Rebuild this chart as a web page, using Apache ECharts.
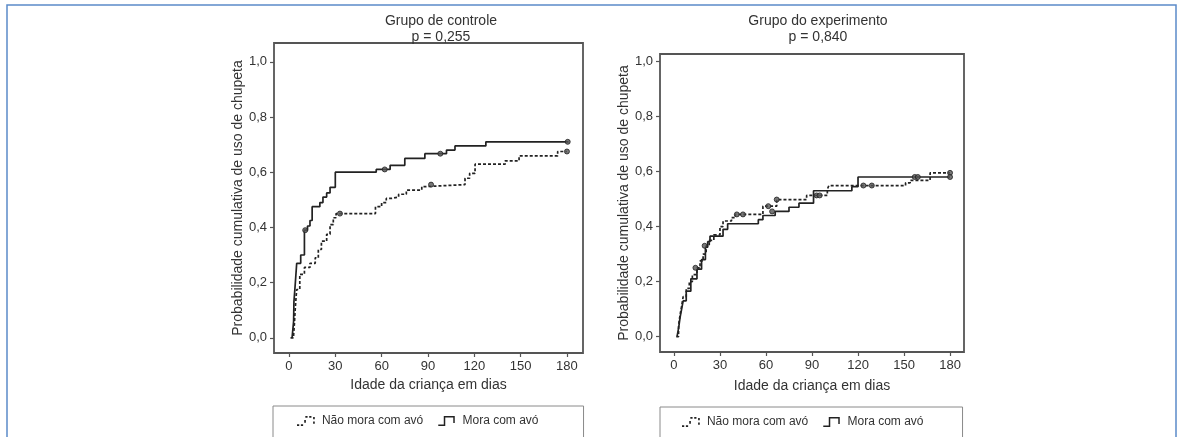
<!DOCTYPE html>
<html>
<head>
<meta charset="utf-8">
<script src="https://cdn.jsdelivr.net/npm/echarts@6/dist/echarts.min.js"></script>
<style>
  html, body { margin: 0; padding: 0; background: #fff; }
  #chart { width: 1181px; height: 437px; }
</style>
</head>
<body>
<div id="chart"></div>
<script>
// tick labels
const xTicks = [0, 30, 60, 90, 120, 150, 180]
const yTicks = [0, 0.2, 0.4, 0.6, 0.8, 1.0]
const groupNames = ['Não mora com avó', 'Mora com avó']

// Grupo de controle
const ctrlNaoDays = [1, 3, 3.5, 4, 4.5, 5, 7, 10, 13.6, 17, 19, 21, 24.4, 26.6, 28.7, 30.5, 56, 60, 63, 66.5, 71, 76, 86, 89, 114, 117, 120.5, 140, 149, 174, 180]
const ctrlNaoProb = [0, 0.01, 0.05, 0.1, 0.14, 0.175, 0.23, 0.255, 0.27, 0.29, 0.32, 0.35, 0.375, 0.41, 0.435, 0.45, 0.475, 0.49, 0.505, 0.51, 0.52, 0.535, 0.548, 0.555, 0.578, 0.596, 0.629, 0.641, 0.659, 0.675, 0.675]
const ctrlNaoCensDays = [33, 92, 180]
const ctrlNaoCensProb = [0.45, 0.555, 0.675]
const ctrlMoraDays = [2, 3, 3.2, 4, 5, 7.6, 10, 12, 13.6, 15, 20, 22, 24.4, 26.6, 30, 56.5, 65.5, 75, 88, 102, 107.5, 127.5, 181]
const ctrlMoraProb = [0, 0.06, 0.13, 0.19, 0.27, 0.3, 0.39, 0.405, 0.425, 0.475, 0.49, 0.51, 0.525, 0.545, 0.6, 0.61, 0.625, 0.65, 0.667, 0.68, 0.695, 0.71, 0.71]
const ctrlMoraCensDays = [10.5, 62, 98, 180.5]
const ctrlMoraCensProb = [0.39, 0.61, 0.667, 0.71]

// Grupo do experimento
const expNaoDays = [1.5, 3, 4, 5, 6, 8, 10, 12, 15, 17, 19, 21, 23, 26, 30, 32, 37.5, 40, 58, 67, 86.5, 100, 101, 151, 154, 167, 180]
const expNaoProb = [0, 0.04, 0.08, 0.11, 0.145, 0.175, 0.2, 0.225, 0.25, 0.275, 0.3, 0.33, 0.35, 0.37, 0.4, 0.42, 0.432, 0.444, 0.474, 0.498, 0.513, 0.535, 0.549, 0.559, 0.568, 0.595, 0.595]
const expNaoCensDays = [14, 20, 41, 45, 61.5, 67, 93, 95, 123.5, 129, 180]
const expNaoCensProb = [0.25, 0.33, 0.444, 0.444, 0.474, 0.498, 0.513, 0.513, 0.549, 0.549, 0.595]
const expMoraDays = [2, 3, 4, 5, 6, 8, 11, 15, 18, 20.5, 22, 23.5, 32, 35, 55, 58, 66, 75, 81.5, 91, 116, 120, 180]
const expMoraProb = [0, 0.03, 0.07, 0.1, 0.13, 0.165, 0.21, 0.245, 0.28, 0.325, 0.345, 0.365, 0.39, 0.41, 0.425, 0.44, 0.455, 0.47, 0.485, 0.53, 0.545, 0.58, 0.58]
const expMoraCensDays = [64, 157, 159, 180]
const expMoraCensProb = [0.455, 0.58, 0.58, 0.58]

const zip = (xs, ys) => xs.map((x, i) => [x, ys[i]])

const FONT = '"Liberation Sans", Arial, sans-serif'
const INK = '#222'
const TXT = '#333'

const solidIcon = 'path://M0,17L14,17L14,20L0,20Z M11,0L14,0L14,20L11,20Z M11,0L33,0L33,3L11,3Z M30,0L33,0L33,14L30,14Z'
const dashIcon = 'path://M0,17L4,17L4,20L0,20Z M7,17L11,17L11,20L7,20Z M13,9L16,9L16,14L13,14Z M15,2L19,2L19,5L15,5Z M22,2L26,2L26,5L22,5Z M29,4L32,4L32,8L29,8Z M29,12L32,12L32,16L29,16Z'

const chart = echarts.init(document.getElementById('chart'))

const makeX = (gridIndex, min, max, gap) => ({
  type: 'value',
  gridIndex: gridIndex,
  min: min,
  max: max,
  name: 'Idade da criança em dias',
  nameLocation: 'middle',
  nameGap: gap,
  nameTextStyle: { fontFamily: FONT, fontSize: 14, color: TXT },
  axisLine: { show: false, onZero: false },
  axisTick: { show: true, length: 4, customValues: xTicks, lineStyle: { color: '#555', width: 1.2 } },
  axisLabel: { customValues: xTicks, margin: 7, fontFamily: FONT, fontSize: 13, color: TXT },
  splitLine: { show: false }
})

const makeY = (gridIndex, min, max, gap) => ({
  type: 'value',
  gridIndex: gridIndex,
  min: min,
  max: max,
  name: 'Probabilidade cumulativa de uso de chupeta',
  nameLocation: 'middle',
  nameGap: gap,
  nameTextStyle: { fontFamily: FONT, fontSize: 14, color: TXT },
  axisLine: { show: false, onZero: false },
  axisTick: { show: true, length: 4, customValues: yTicks, lineStyle: { color: '#555', width: 1.2 } },
  axisLabel: {
    customValues: yTicks,
    margin: 7,
    fontFamily: FONT,
    fontSize: 13,
    color: TXT,
    formatter: (v) => v.toFixed(1).replace('.', ',')
  },
  splitLine: { show: false }
})

const stepSeries = (name, data, idx, dashed) => ({
  name: name,
  type: 'line',
  step: 'end',
  xAxisIndex: idx,
  yAxisIndex: idx,
  data: data,
  showSymbol: false,
  color: INK,
  lineStyle: { color: INK, width: 1.7, type: dashed ? [3, 2] : 'solid' },
  z: dashed ? 3 : 2
})

const censorSeries = (name, data, idx) => ({
  name: name,
  type: 'scatter',
  xAxisIndex: idx,
  yAxisIndex: idx,
  data: data,
  symbol: 'circle',
  symbolSize: 5,
  itemStyle: { color: '#555', borderColor: INK, borderWidth: 1 },
  z: 4
})

const makeLegend = (left, top, padding, gap) => ({
  left: left,
  top: top,
  orient: 'horizontal',
  padding: padding,
  itemGap: gap,
  itemWidth: 18,
  itemHeight: 10,
  borderColor: '#8a8a8a',
  borderWidth: 1,
  selectedMode: false,
  textStyle: { fontFamily: FONT, fontSize: 12, color: TXT, padding: [0, 0, 0, 2] },
  data: [
    { name: groupNames[0], icon: dashIcon, itemStyle: { color: INK } },
    { name: groupNames[1], icon: solidIcon, itemStyle: { color: INK } }
  ]
})

const option = {
  backgroundColor: '#fff',
  animation: false,
  title: [
    {
      text: 'Grupo de controle\np = 0,255',
      left: 436,
      top: 8,
      textAlign: 'center',
      textStyle: { fontFamily: FONT, fontSize: 14, fontWeight: 'normal', color: TXT, lineHeight: 16 }
    },
    {
      text: 'Grupo do experimento\np = 0,840',
      left: 813,
      top: 8,
      textAlign: 'center',
      textStyle: { fontFamily: FONT, fontSize: 14, fontWeight: 'normal', color: TXT, lineHeight: 16 }
    }
  ],
  legend: [
    makeLegend(273, 406, [9, 45, 20, 24], 15),
    makeLegend(660, 407, [9, 39, 20, 22], 15)
  ],
  graphic: [
    {
      type: 'rect',
      shape: { x: 7, y: 5, width: 1169, height: 460 },
      style: { fill: 'none', stroke: '#5b8bc9', lineWidth: 1.5 },
      silent: true
    }
  ],
  grid: [
    { left: 274, right: 598, top: 43, bottom: 84, show: true, borderColor: '#555', borderWidth: 1.8, backgroundColor: 'transparent' },
    { left: 660, right: 217, top: 54, bottom: 85, show: true, borderColor: '#555', borderWidth: 1.8, backgroundColor: 'transparent' }
  ],
  xAxis: [
    makeX(0, -9.7, 190.4, 18),
    makeX(1, -9.1, 189.1, 27)
  ],
  yAxis: [
    makeY(0, -0.055, 1.068, 24),
    makeY(1, -0.056, 1.027, 22)
  ],
  series: [
    stepSeries(groupNames[0], zip(ctrlNaoDays, ctrlNaoProb), 0, true),
    stepSeries(groupNames[1], zip(ctrlMoraDays, ctrlMoraProb), 0, false),
    censorSeries('ctrl-nao-cens', zip(ctrlNaoCensDays, ctrlNaoCensProb), 0),
    censorSeries('ctrl-mora-cens', zip(ctrlMoraCensDays, ctrlMoraCensProb), 0),
    stepSeries(groupNames[0], zip(expNaoDays, expNaoProb), 1, true),
    stepSeries(groupNames[1], zip(expMoraDays, expMoraProb), 1, false),
    censorSeries('exp-nao-cens', zip(expNaoCensDays, expNaoCensProb), 1),
    censorSeries('exp-mora-cens', zip(expMoraCensDays, expMoraCensProb), 1)
  ]
}

chart.setOption(option)
</script>
</body>
</html>
